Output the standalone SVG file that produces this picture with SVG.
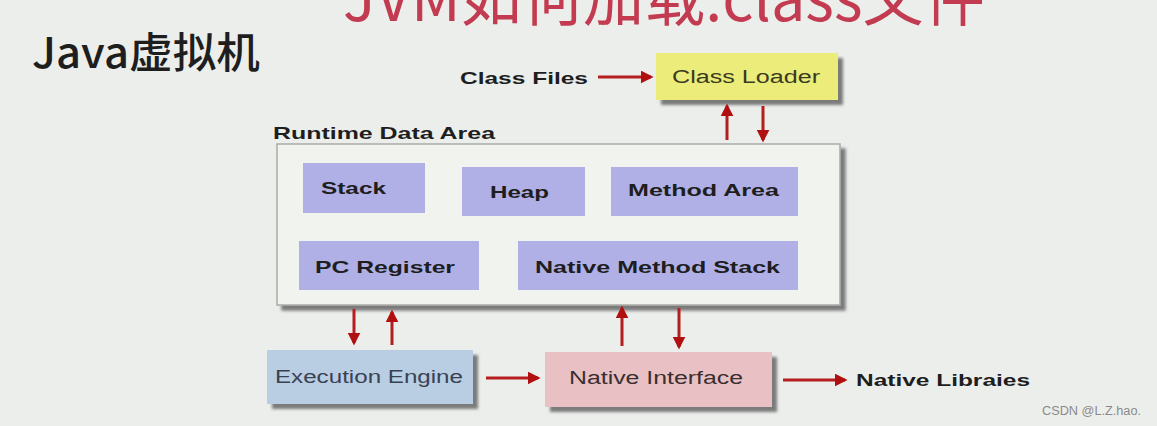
<svg xmlns="http://www.w3.org/2000/svg" width="1157" height="426" viewBox="0 0 1157 426">
<style>
.lbl{font-family:"Liberation Sans",Arial,sans-serif;font-weight:bold;font-size:17px;fill:#1e1e1e;dominant-baseline:central}
.reg{font-family:"Liberation Sans",Arial,sans-serif;font-weight:normal;font-size:18px;dominant-baseline:central}
.box{filter:url(#sh)}
.conn line{stroke:#b41e1e;stroke-width:3;fill:none;marker-end:url(#ah)}
.mem{fill:#b0b0e6}
</style>
<defs>
<filter id="sh" x="-10%" y="-10%" width="130%" height="140%">
<feDropShadow dx="5" dy="5" stdDeviation="1.5" flood-color="#555" flood-opacity="0.75"/>
</filter>
<marker id="ah" viewBox="0 0 10 10" refX="8" refY="5" markerWidth="13" markerHeight="13" markerUnits="userSpaceOnUse" orient="auto">
<path d="M0,0 L10,5 L0,10 z" fill="#b01010"/>
</marker>
</defs>
<rect width="1157" height="426" fill="#eceeec"/>
<text x="343" y="21" font-family="'Noto Sans CJK SC',sans-serif" font-size="62" fill="#c23b50" textLength="642" lengthAdjust="spacingAndGlyphs">JVM如何加载.class文件</text>
<text x="32" y="68" font-family="'Noto Sans CJK SC',sans-serif" font-size="42" font-weight="500" fill="#1e1e1e" textLength="228" lengthAdjust="spacingAndGlyphs">Java虚拟机</text>

<g id="class-files"><text class="lbl" x="460" y="78" textLength="128" lengthAdjust="spacingAndGlyphs">Class Files</text></g>
<g id="class-loader"><rect class="box" x="656" y="53" width="182" height="47" fill="#ecec7a"/><text class="reg" x="672" y="77" textLength="148" lengthAdjust="spacingAndGlyphs" fill="#3a3a22">Class Loader</text></g>

<g id="runtime-data-area">
<text class="lbl" x="273" y="133" textLength="222" lengthAdjust="spacingAndGlyphs">Runtime Data Area</text>
<rect class="box" x="277" y="144" width="563" height="161" fill="#f1f3ef" stroke="#a8aca6" stroke-width="1.5"/>
</g>
<g id="stack"><rect class="mem" x="303" y="163" width="122" height="50"/><text class="lbl" x="321" y="188" textLength="65" lengthAdjust="spacingAndGlyphs">Stack</text></g>
<g id="heap"><rect class="mem" x="462" y="167" width="123" height="49"/><text class="lbl" x="490" y="192" textLength="59" lengthAdjust="spacingAndGlyphs">Heap</text></g>
<g id="method-area"><rect class="mem" x="611" y="167" width="187" height="49"/><text class="lbl" x="628" y="190" textLength="151" lengthAdjust="spacingAndGlyphs">Method Area</text></g>
<g id="pc-register"><rect class="mem" x="299" y="241" width="180" height="49"/><text class="lbl" x="315" y="267" textLength="140" lengthAdjust="spacingAndGlyphs">PC Register</text></g>
<g id="native-method-stack"><rect class="mem" x="518" y="241" width="280" height="49"/><text class="lbl" x="535" y="267" textLength="245" lengthAdjust="spacingAndGlyphs">Native Method Stack</text></g>

<g id="execution-engine"><rect class="box" x="267" y="350" width="206" height="54" fill="#b9cde3"/><text class="reg" x="275" y="377" textLength="188" lengthAdjust="spacingAndGlyphs" fill="#3a4252">Execution Engine</text></g>
<g id="native-interface"><rect class="box" x="545" y="352" width="227" height="55" fill="#e9c1c5"/><text class="reg" x="569" y="378" textLength="174" lengthAdjust="spacingAndGlyphs" fill="#3a2e30">Native Interface</text></g>
<g id="native-libraies"><text class="lbl" x="856" y="380" textLength="174" lengthAdjust="spacingAndGlyphs">Native Libraies</text></g>

<g id="connectors" class="conn">
<line x1="598" y1="77" x2="651" y2="77"/>
<line x1="727" y1="140" x2="727" y2="106"/>
<line x1="763" y1="106" x2="763" y2="140"/>
<line x1="354" y1="309" x2="354" y2="343"/>
<line x1="392" y1="345" x2="392" y2="312"/>
<line x1="622" y1="346" x2="622" y2="308"/>
<line x1="679" y1="308" x2="679" y2="347"/>
<line x1="486" y1="378" x2="538" y2="378"/>
<line x1="783" y1="380" x2="845" y2="380"/>
</g>

<text x="1042" y="411" font-family="'Liberation Sans',Arial,sans-serif" font-size="12.5" fill="#8a8a8a" dominant-baseline="central" textLength="99" lengthAdjust="spacingAndGlyphs">CSDN @L.Z.hao.</text>
</svg>
